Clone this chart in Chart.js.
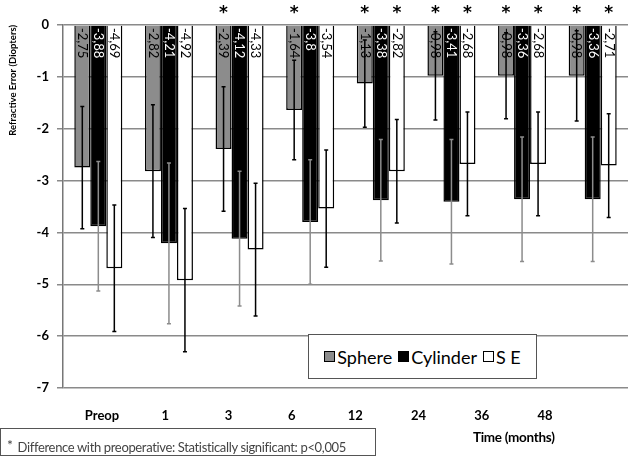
<!DOCTYPE html>
<html>
<head>
<meta charset="utf-8">
<script src="https://cdn.jsdelivr.net/npm/chart.js@4.4.1/dist/chart.umd.min.js"></script>
<style>
  body { margin: 0; background: #fff; font-family: "Lato", sans-serif; }
  #wrap { position: relative; width: 629px; height: 461px; }
  #legend {
    position: absolute; left: 308px; top: 334px; width: 229px; height: 45px;
    box-sizing: border-box; border: 1px solid #555; background: #fff;
    display: flex; align-items: center; justify-content: center;
    font-size: 18px; color: #000;
  }
  #legend .item { display: flex; align-items: center; margin: 0 3px; }
  #legend .box { width: 9px; height: 9px; border: 1.5px solid #000; margin-right: 2px; }
  #note {
    position: absolute; left: 0; top: 428px; width: 376px; height: 28px;
    box-sizing: border-box; border: 1px solid #555; padding-left: 6px;
    font-size: 13px; line-height: 26px; color: #444; white-space: nowrap; letter-spacing: -0.35px;
  }
  #note sup { font-size: 14px; position: relative; top: 3px; margin-right: 5px; }
  #xtitle { position: absolute; left: 473px; top: 429px; font-size: 13.5px; font-weight: bold; color: #000; letter-spacing: -0.3px; }
</style>
</head>
<body>
<div id="wrap">
  <canvas id="chart" width="629" height="461"></canvas>
  <div id="legend"></div>
  <div id="note"><sup>*</sup>Difference with preoperative: Statistically significant: p&lt;0,005</div>
  <div id="xtitle">Time (months)</div>
</div>
<script>
const timeLabels = ["Preop", "1", "3", "6", "12", "24", "36", "48"];

const sphere = [-2.75, -2.82, -2.39, -1.64, -1.13, -0.98, -0.98, -0.98];
const cylinder = [-3.88, -4.21, -4.12, -3.8, -3.38, -3.41, -3.36, -3.36];
const sphericalEq = [-4.69, -4.92, -4.33, -3.54, -2.82, -2.68, -2.68, -2.71];

const sphereSD = [1.18, 1.28, 1.2, 0.96, 0.84, 0.85, 0.83, 0.87];
const cylinderSD = [1.25, 1.55, 1.3, 1.2, 1.17, 1.2, 1.2, 1.2];
const sphericalEqSD = [1.22, 1.38, 1.28, 1.13, 1.0, 1.0, 1.0, 1.0];

// significant vs preop (asterisk above bar)
const sphereSig = [false, false, true, true, true, true, true, true];
const cylinderSig = [false, false, false, false, false, false, false, false];
const sphericalEqSig = [false, false, false, false, true, true, true, true];

const yTicks = [0, -1, -2, -3, -4, -5, -6, -7];

// error bars, rotated value labels and asterisks
const extras = {
  id: "extras",
  afterDatasetsDraw(chart) {
    const ctx = chart.ctx;
    const y = chart.scales.y;
    chart.data.datasets.forEach((ds, i) => {
      const meta = chart.getDatasetMeta(i);
      meta.data.forEach((bar, j) => {
        const v = ds.data[j];
        const top = y.getPixelForValue(v + ds.sd[j]);
        const bot = y.getPixelForValue(v - ds.sd[j]);
        ctx.save();
        ctx.strokeStyle = ds.errColor;
        ctx.lineWidth = 1.5;
        ctx.beginPath();
        ctx.moveTo(bar.x, top);
        ctx.lineTo(bar.x, bot);
        ctx.moveTo(bar.x - 2, top);
        ctx.lineTo(bar.x + 2, top);
        ctx.moveTo(bar.x - 2, bot);
        ctx.lineTo(bar.x + 2, bot);
        ctx.stroke();

        ctx.translate(bar.x, y.getPixelForValue(0) + 3);
        ctx.rotate(Math.PI / 2);
        ctx.fillStyle = ds.textColor;
        ctx.font = "13px Lato";
        ctx.textAlign = "left";
        ctx.textBaseline = "middle";
        ctx.fillText(String(v).replace(".", ","), 0, 0);
        ctx.restore();

        if (ds.sig[j]) {
          ctx.save();
          ctx.fillStyle = "#000";
          ctx.font = "bold 17px 'DejaVu Sans'";
          ctx.textAlign = "center";
          ctx.textBaseline = "middle";
          ctx.fillText("*", bar.x, chart.chartArea.top - 11);
          ctx.restore();
        }
      });
    });
  }
};

const ctx = document.getElementById("chart");

const chart = new Chart(ctx, {
  type: "bar",
  data: {
    labels: timeLabels,
    datasets: [
      {
        label: "Sphere",
        data: sphere,
        sd: sphereSD,
        sig: sphereSig,
        backgroundColor: "#8c8c8c",
        borderColor: "#000",
        borderWidth: 1.5,
        errColor: "#000",
        textColor: "#000",
      },
      {
        label: "Cylinder",
        data: cylinder,
        sd: cylinderSD,
        sig: cylinderSig,
        backgroundColor: "#000",
        borderColor: "#000",
        borderWidth: 1.5,
        errColor: "#8c8c8c",
        textColor: "#fff",
      },
      {
        label: "S E",
        data: sphericalEq,
        sd: sphericalEqSD,
        sig: sphericalEqSig,
        backgroundColor: "#fff",
        borderColor: "#000",
        borderWidth: 1.5,
        errColor: "#000",
        textColor: "#000",
      },
    ],
  },
  options: {
    responsive: false,
    devicePixelRatio: 1,
    animation: false,
    layout: { padding: { top: 25, right: 1, left: 0, bottom: 0 } },
    categoryPercentage: 0.68,
    barPercentage: 1.0,
    plugins: {
      legend: { display: false },
      tooltip: { enabled: false },
    },
    scales: {
      x: {
        display: false,
        offset: true,
      },
      // separate axis only for the time labels, which sit left of the bar groups
      xl: {
        type: "linear",
        position: "bottom",
        offset: false,
        bounds: "data",
        afterDataLimits: (scale) => {
          scale.min = -0.616;
          scale.max = 8.31;
        },
        afterBuildTicks: (scale) => {
          scale.ticks = timeLabels.map((_, i) => ({ value: i }));
        },
        afterFit: (scale) => {
          scale.height = 73;
        },
        grid: { display: false, drawTicks: false },
        border: { display: false },
        ticks: {
          padding: 20,
          color: "#000",
          autoSkip: false,
          maxRotation: 0,
          font: { family: "Lato", size: 13, weight: "bold" },
          callback: (value) => timeLabels[value],
        },
      },
      y: {
        min: -7,
        max: 0,
        afterBuildTicks: (scale) => {
          scale.ticks = yTicks.map((v) => ({ value: v }));
        },
        afterFit: (scale) => {
          scale.width = 63;
        },
        grid: { color: "#8a8a8a", lineWidth: 1.5, tickLength: 6 },
        border: { color: "#777", width: 1.5 },
        ticks: {
          padding: 8,
          color: "#000",
          font: { family: "Lato", size: 13, weight: "bold" },
        },
        title: {
          display: true,
          text: "Refractive Error (Diopters)",
          align: "end",
          color: "#000",
          padding: { top: 7, bottom: 0 },
          font: { family: "Lato", size: 9.5, weight: "bold" },
        },
      },
    },
  },
  plugins: [extras],
});

// legend box inside the plot, built from the datasets
const legend = document.getElementById("legend");
chart.data.datasets.forEach((ds) => {
  const item = document.createElement("span");
  item.className = "item";
  const box = document.createElement("span");
  box.className = "box";
  box.style.background = ds.backgroundColor;
  item.appendChild(box);
  item.appendChild(document.createTextNode(ds.label));
  legend.appendChild(item);
});
</script>
</body>
</html>
